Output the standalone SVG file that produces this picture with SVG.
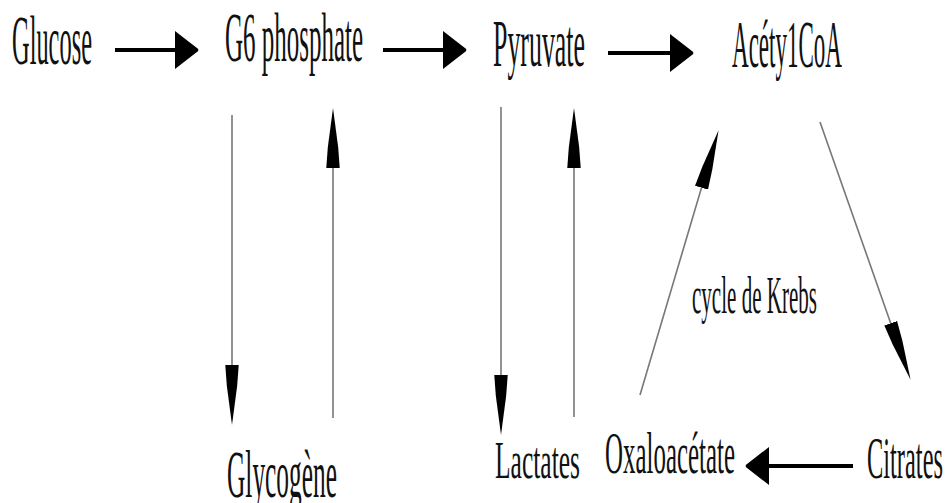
<svg xmlns="http://www.w3.org/2000/svg" width="945" height="503" viewBox="0 0 945 503">
<style>
text{font-family:"Liberation Serif","Times New Roman",serif;fill:#111;}
.thick{stroke:#000;stroke-width:4;fill:none;}
.thin{stroke:#777;stroke-width:1.6;fill:none;}
</style>
<defs>
<marker id="bigHead" markerUnits="userSpaceOnUse" markerWidth="24" markerHeight="38" viewBox="0 0 22 36" refX="0" refY="18" orient="auto">
<path d="M0,0 L22,17 L22,19 L0,36 Z" fill="#000"/>
</marker>
<marker id="thinHead" markerUnits="userSpaceOnUse" markerWidth="60" markerHeight="14" viewBox="0 0 58 13" refX="0" refY="6.5" orient="auto">
<path d="M0,0 L20,1.5 L58,6.5 L20,11.5 L0,13 Z" fill="#000"/>
</marker>
</defs>
<rect width="945" height="503" fill="#fff"/>
<g id="connectors">
<line class="thick" x1="115" y1="50" x2="175" y2="50" marker-end="url(#bigHead)"/>
<line class="thick" x1="383" y1="50" x2="443" y2="50" marker-end="url(#bigHead)"/>
<line class="thick" x1="608" y1="53" x2="670" y2="53" marker-end="url(#bigHead)"/>
<line class="thick" x1="853" y1="466" x2="769" y2="466" marker-end="url(#bigHead)"/>
<line class="thin" x1="232" y1="115" x2="232" y2="365" marker-end="url(#thinHead)"/>
<line class="thin" x1="333" y1="418" x2="333" y2="168" marker-end="url(#thinHead)"/>
<line class="thin" x1="501" y1="107" x2="501" y2="375" marker-end="url(#thinHead)"/>
<line class="thin" x1="574" y1="417" x2="574" y2="168" marker-end="url(#thinHead)"/>
<line class="thin" x1="640" y1="395" x2="701.5" y2="187.7" marker-end="url(#thinHead)"/>
<line class="thin" x1="820" y1="122" x2="890.7" y2="323.2" marker-end="url(#thinHead)"/>
</g>
<g id="glucose"><text x="12" y="64" font-size="69" textLength="80" lengthAdjust="spacingAndGlyphs">Glucose</text></g>
<g id="g6phosphate"><text x="225" y="61" font-size="69" textLength="138" lengthAdjust="spacingAndGlyphs">G6 phosphate</text></g>
<g id="pyruvate"><text x="493" y="66" font-size="67" textLength="92" lengthAdjust="spacingAndGlyphs">Pyruvate</text></g>
<g id="acetylcoa"><text x="732" y="67" font-size="67" textLength="110" lengthAdjust="spacingAndGlyphs">Acéty1CoA</text></g>
<g id="glycogene"><text x="227" y="497" font-size="68" textLength="110" lengthAdjust="spacingAndGlyphs">Glycogène</text></g>
<g id="lactates"><text x="495" y="478" font-size="52" textLength="85" lengthAdjust="spacingAndGlyphs">Lactates</text></g>
<g id="oxaloacetate"><text x="605" y="473" font-size="59" textLength="130" lengthAdjust="spacingAndGlyphs">Oxaloacétate</text></g>
<g id="citrates"><text x="867" y="478" font-size="59" textLength="76" lengthAdjust="spacingAndGlyphs">Citrates</text></g>
<g id="krebs"><text x="692" y="313" font-size="52" textLength="125" lengthAdjust="spacingAndGlyphs">cycle de Krebs</text></g>
</svg>
